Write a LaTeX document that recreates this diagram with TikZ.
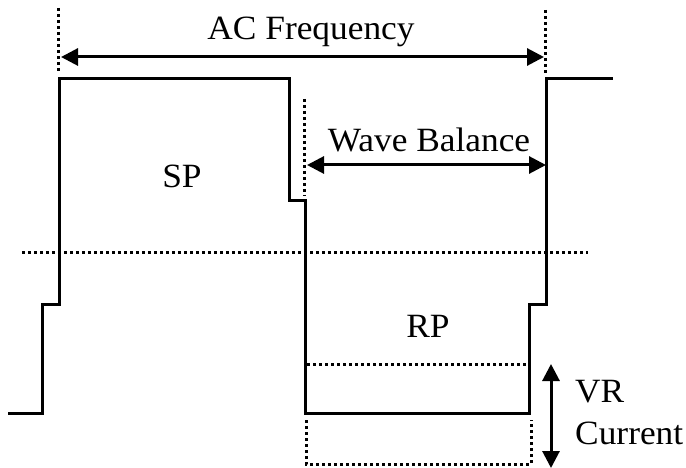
\documentclass[tikz,border=0pt]{standalone}
\usepackage{fontspec}
\setmainfont{Liberation Serif}
\usetikzlibrary{arrows.meta}
\tikzset{
  wave/.style={line width=3pt, line join=miter},
  dotline/.style={line width=3pt, dash pattern=on 2.6pt off 3.4pt},
  dimarrow/.style={line width=3pt, {Triangle[length=17pt,width=17pt]}-{Triangle[length=17pt,width=17pt]}},
  lbl/.style={inner sep=0pt, font=\fontsize{34}{40}\selectfont, xscale=1.04},
}
\begin{document}
\begin{tikzpicture}[x=1pt,y=-1pt]
\useasboundingbox (0,0) rectangle (686,468);
% waveform
\draw[wave] (8,413) -- (42,413) -- (42,304) -- (59,304) -- (59,79) -- (289,79) -- (289,201) -- (305,201) -- (305,413) -- (529,413) -- (529,304) -- (546,304) -- (546,79) -- (613,79);
% dotted guides
\draw[dotline] (58,8) -- (58,72);
\draw[dotline] (545,10) -- (545,74);
\draw[dotline] (304,99) -- (304,196);
\draw[dotline] (22,252) -- (588,252);
\draw[dotline] (307,364) -- (528,364);
\draw[dotline] (306,420) -- (306,464) -- (531,464) -- (531,420);
% arrow end points
\coordinate (acL) at (61,57);
\coordinate (acR) at (544,57);
\coordinate (wbL) at (307,165);
\coordinate (wbR) at (546,165);
\coordinate (vrT) at (551,364);
\coordinate (vrB) at (551,468);
\draw[dimarrow] (acL) -- (acR);
\draw[dimarrow] (wbL) -- (wbR);
\draw[dimarrow] (vrT) -- (vrB);
% labels
\node[lbl, anchor=base] (ac) at (311,40) {AC Frequency};
\node[lbl, anchor=base] (wb) at (429,152) {Wave Balance};
\node[lbl, anchor=base] (sp) at (182,188) {SP};
\node[lbl, anchor=base] (rp) at (428,337) {RP};
\node[lbl, anchor=base west] (vr) at (575,402) {VR};
\node[lbl, anchor=base west] (cur) at (575,444) {Current};
\end{tikzpicture}
\end{document}
